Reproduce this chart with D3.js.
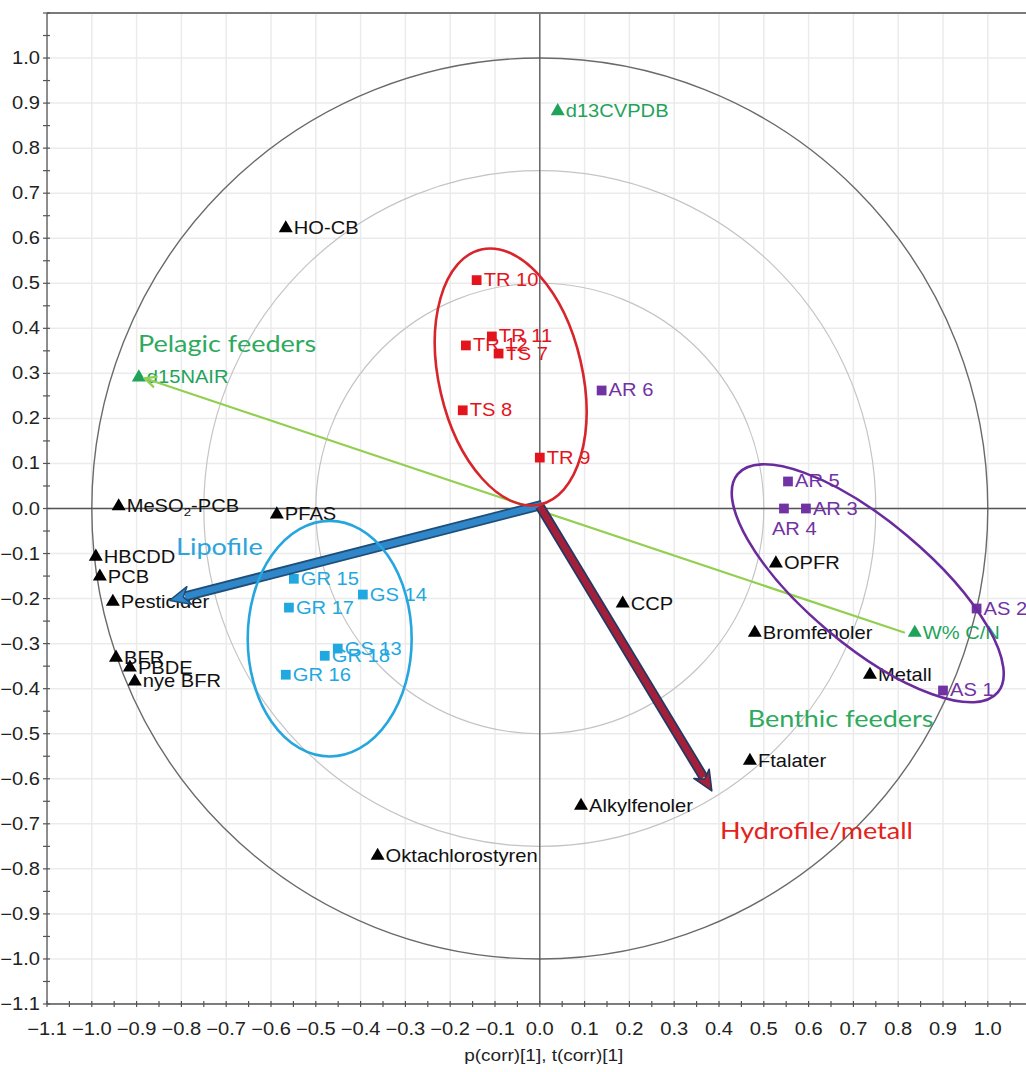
<!DOCTYPE html>
<html><head><meta charset="utf-8">
<script src="https://cdn.jsdelivr.net/npm/d3@7"></script>
<style>body{margin:0;background:#fff;} svg{display:block;}</style>
</head><body>
<svg id="chart" width="1026" height="1072"></svg>
<script>
// ---------------- data ----------------
const variableNames = ["HO-CB","MeSO2-PCB","PFAS","HBCDD","PCB","Pesticider","BFR","PBDE","nye BFR","CCP","OPFR","Bromfenoler","Metall","Ftalater","Alkylfenoler","Oktachlorostyren"];
const variableX = [-0.567,-0.940,-0.587,-0.991,-0.982,-0.953,-0.946,-0.915,-0.904,0.185,0.527,0.480,0.737,0.469,0.092,-0.362];
const variableY = [0.622,0.005,-0.013,-0.107,-0.151,-0.207,-0.331,-0.353,-0.384,-0.211,-0.122,-0.276,-0.369,-0.560,-0.660,-0.771];

const isotopeNames = ["d13CVPDB","d15NAIR","W% C/N"];
const isotopeX = [0.040,-0.895,0.837];
const isotopeY = [0.882,0.291,-0.276];

const tSampleNames = ["TR 10","TR 12","TR 11","TS 7","TS 8","TR 9"];
const tSampleX = [-0.141,-0.165,-0.107,-0.092,-0.172,0.000];
const tSampleY = [0.507,0.362,0.382,0.344,0.218,0.113];

const aSampleNames = ["AR 6","AR 5","AR 4","AR 3","AS 2","AS 1"];
const aSampleX = [0.138,0.554,0.545,0.594,0.975,0.900];
const aSampleY = [0.262,0.060,0.000,0.000,-0.222,-0.404];

const gSampleNames = ["GR 15","GS 14","GR 17","GS 13","GR 18","GR 16"];
const gSampleX = [-0.549,-0.395,-0.560,-0.451,-0.480,-0.567];
const gSampleY = [-0.156,-0.191,-0.220,-0.311,-0.327,-0.369];

const tickValues = d3.range(-11, 11).map(d => d / 10);
const circleRadii = [1.0, 0.75, 0.5];
const xTitle = "p(corr)[1], t(corr)[1]";

// annotations (data units)
const annotationTexts = ["Pelagic feeders","Lipofile","Benthic feeders","Hydrofile/metall"];
const annotationX = [-0.897,-0.812,0.464,0.402];
const annotationY = [0.347,-0.103,-0.485,-0.734];

const groupEllipseCX = [-0.065,-0.469,0.732];
const groupEllipseCY = [0.292,-0.289,-0.166];
const groupEllipseRX = [0.160,0.183,0.379];
const groupEllipseRY = [0.292,0.263,0.138];
const groupEllipseAngle = [-13,0,40];

// ---------------- layout ----------------
const svg = d3.select("#chart");
const W = 1026, H = 1072;
const pL = 47, pT = 13, pB = 1004;
const xs = d3.scaleLinear().domain([-1.1, 1.1]).range([pL, pL + 2.2 * 448]);
const ys = d3.scaleLinear().domain([-1.1, 1.1]).range([pB, pT]);
const SX = 1.15; // horizontal text stretch
const labelFont = "'Liberation Sans', Arial, sans-serif";
const annFont = "Lato, 'Open Sans', sans-serif";

svg.append("rect").attr("width", W).attr("height", H).attr("fill", "#fff");
svg.append("defs").append("clipPath").attr("id", "clip")
  .append("rect").attr("x", pL).attr("y", pT).attr("width", W - pL).attr("height", pB - pT);

const plot = svg.append("g").attr("clip-path", "url(#clip)");

// grid
plot.selectAll(".gx").data(tickValues.concat([1.1])).enter().append("line")
  .attr("x1", d => xs(d)).attr("x2", d => xs(d)).attr("y1", pT).attr("y2", pB)
  .attr("stroke", "#ebebeb").attr("stroke-width", 1.5);
plot.selectAll(".gy").data(tickValues.concat([1.1])).enter().append("line")
  .attr("y1", d => ys(d)).attr("y2", d => ys(d)).attr("x1", pL).attr("x2", W)
  .attr("stroke", "#ebebeb").attr("stroke-width", 1.5);

// circles
plot.selectAll(".circ").data(circleRadii).enter().append("ellipse")
  .attr("cx", xs(0)).attr("cy", ys(0))
  .attr("rx", d => xs(d) - xs(0)).attr("ry", d => ys(0) - ys(d))
  .attr("fill", "none")
  .attr("stroke", d => d === 1 ? "#6a6a6a" : "#c4c4c4")
  .attr("stroke-width", d => d === 1 ? 1.4 : 1.2);

// zero lines
plot.append("line").attr("x1", xs(0)).attr("x2", xs(0)).attr("y1", pT).attr("y2", pB)
  .attr("stroke", "#555").attr("stroke-width", 1.3);
plot.append("line").attr("x1", pL).attr("x2", W).attr("y1", ys(0)).attr("y2", ys(0))
  .attr("stroke", "#555").attr("stroke-width", 1.3);

// frame
svg.append("line").attr("x1", pL).attr("x2", W).attr("y1", pT).attr("y2", pT)
  .attr("stroke", "#7a7a7a").attr("stroke-width", 2);
svg.append("line").attr("x1", pL).attr("x2", pL).attr("y1", pT).attr("y2", pB)
  .attr("stroke", "#555").attr("stroke-width", 1.3);
svg.append("line").attr("x1", pL).attr("x2", W).attr("y1", pB).attr("y2", pB)
  .attr("stroke", "#555").attr("stroke-width", 1.3);

// minor/major ticks every 0.05
const minor = d3.range(-22, 23).map(d => d / 20);
svg.selectAll(".tx").data(minor.filter(d => xs(d) <= W)).enter().append("line")
  .attr("x1", d => xs(d)).attr("x2", d => xs(d)).attr("y1", pB - 3).attr("y2", pB + 3)
  .attr("stroke", "#555").attr("stroke-width", 1.2);
svg.selectAll(".ty").data(minor).enter().append("line")
  .attr("y1", d => ys(d)).attr("y2", d => ys(d)).attr("x1", pL - 4).attr("x2", pL + 3)
  .attr("stroke", "#555").attr("stroke-width", 1.2);

// tick labels
const fmt = d3.format(".1f");
svg.selectAll(".xl").data(tickValues).enter().append("text")
  .attr("transform", d => `translate(${xs(d)},${pB + 31}) scale(${SX},1)`)
  .attr("text-anchor", "middle").attr("font-family", labelFont).attr("font-size", 17.5)
  .attr("fill", "#222").text(d => fmt(d));
svg.selectAll(".yl").data(tickValues).enter().append("text")
  .attr("transform", d => `translate(${pL - 7},${ys(d) + 6}) scale(${SX},1)`)
  .attr("text-anchor", "end").attr("font-family", labelFont).attr("font-size", 17.5)
  .attr("fill", "#222").text(d => fmt(d));
svg.append("text")
  .attr("transform", `translate(${xs(0) + 4},${pB + 57}) scale(${SX},1)`)
  .attr("text-anchor", "middle").attr("font-family", labelFont).attr("font-size", 16.5)
  .attr("fill", "#222").text(xTitle);

// ---------------- points ----------------
const labelG = plot.append("g");
const markG = plot.append("g");
const specialOffsets = { "AR 4": [-12, 26] };

function drawSeries(names, xv, yv, type, color, textColor) {
  names.forEach((n, i) => {
    const px = xs(xv[i]), py = ys(yv[i]);
    const off = specialOffsets[n] || [type === "tri" ? 8 : 7, 6];
    const t = labelG.append("text")
      .attr("transform", `translate(${px + off[0]},${py + off[1]}) scale(${SX},1)`)
      .attr("font-family", labelFont).attr("font-size", 17.5).attr("fill", textColor);
    if (n === "MeSO2-PCB") {
      t.append("tspan").text("MeSO");
      t.append("tspan").attr("font-size", 11.5).attr("dy", 4).text("2");
      t.append("tspan").attr("dy", -4).text("-PCB");
    } else t.text(n);
    const sym = type === "tri" ? d3.symbol(d3.symbolTriangle, 85) : d3.symbol(d3.symbolSquare, 95);
    markG.append("path").attr("d", sym()).attr("transform", `translate(${px},${py})`).attr("fill", color);
  });
}
drawSeries(variableNames, variableX, variableY, "tri", "#000", "#111");
drawSeries(isotopeNames, isotopeX, isotopeY, "tri", "#1fa35a", "#1fa35a");
drawSeries(tSampleNames, tSampleX, tSampleY, "sq", "#e3141c", "#e3141c");
drawSeries(aSampleNames, aSampleX, aSampleY, "sq", "#7132a4", "#7132a4");
drawSeries(gSampleNames, gSampleX, gSampleY, "sq", "#22a8e0", "#22a8e0");

// ---------------- annotations ----------------
const ann = svg.append("g");
const k = xs(1) - xs(0);

// green line: W% C/N -> d15NAIR
(function () {
  const x1 = xs(0.815), y1 = ys(-0.276), x2 = xs(-0.882), y2 = ys(0.289);
  ann.append("line").attr("x1", x1).attr("y1", y1).attr("x2", x2).attr("y2", y2)
    .attr("stroke", "#92cf4f").attr("stroke-width", 2.2);
  const a = Math.atan2(y2 - y1, x2 - x1);
  const L = 13, s = 0.45;
  ann.append("path")
    .attr("d", `M${x2 + L * Math.cos(a + Math.PI - s)},${y2 + L * Math.sin(a + Math.PI - s)} L${x2},${y2} L${x2 + L * Math.cos(a + Math.PI + s)},${y2 + L * Math.sin(a + Math.PI + s)}`)
    .attr("fill", "none").attr("stroke", "#92cf4f").attr("stroke-width", 2.2);
})();

function thickArrow(x0, y0, x1, y1, inner, outer) {
  const X0 = xs(x0), Y0 = ys(y0), X1 = xs(x1), Y1 = ys(y1);
  const a = Math.atan2(Y1 - Y0, X1 - X0);
  const hl = 16; // head length
  const bx = X1 - hl * Math.cos(a), by = Y1 - hl * Math.sin(a);
  ann.append("line").attr("x1", X0).attr("y1", Y0).attr("x2", bx).attr("y2", by)
    .attr("stroke", outer).attr("stroke-width", 10);
  ann.append("line").attr("x1", X0).attr("y1", Y0).attr("x2", bx).attr("y2", by)
    .attr("stroke", inner).attr("stroke-width", 6.5);
  const hw = 9;
  const px = -Math.sin(a), py = Math.cos(a);
  ann.append("path")
    .attr("d", `M${X1},${Y1} L${bx - 4 * Math.cos(a) + hw * px},${by - 4 * Math.sin(a) + hw * py} L${bx + 2 * Math.cos(a)},${by + 2 * Math.sin(a)} L${bx - 4 * Math.cos(a) - hw * px},${by - 4 * Math.sin(a) - hw * py} Z`)
    .attr("fill", inner).attr("stroke", outer).attr("stroke-width", 1.5).attr("stroke-linejoin", "round");
}
thickArrow(0.005, 0.008, -0.826, -0.204, "#2f86c8", "#1f4e79");
thickArrow(0.0, 0.005, 0.384, -0.627, "#a3203a", "#203864");

// group ellipses
const ellColors = ["#d8242b", "#25a6de", "#6a2c9c"];
groupEllipseCX.forEach((cx, i) => {
  ann.append("ellipse")
    .attr("transform", `translate(${xs(cx)},${ys(groupEllipseCY[i])}) rotate(${groupEllipseAngle[i]})`)
    .attr("rx", groupEllipseRX[i] * k).attr("ry", groupEllipseRY[i] * k)
    .attr("fill", "none").attr("stroke", ellColors[i]).attr("stroke-width", 2.6);
});

// annotation texts
const annColors = ["#2eaa5e", "#2ba3dc", "#2eaa5e", "#e3221c"];
annotationTexts.forEach((t, i) => {
  ann.append("text")
    .attr("transform", `translate(${xs(annotationX[i])},${ys(annotationY[i])}) scale(${SX},1)`)
    .attr("font-family", annFont).attr("font-size", 23.5).attr("fill", annColors[i]).text(t);
});
</script>
</body></html>
